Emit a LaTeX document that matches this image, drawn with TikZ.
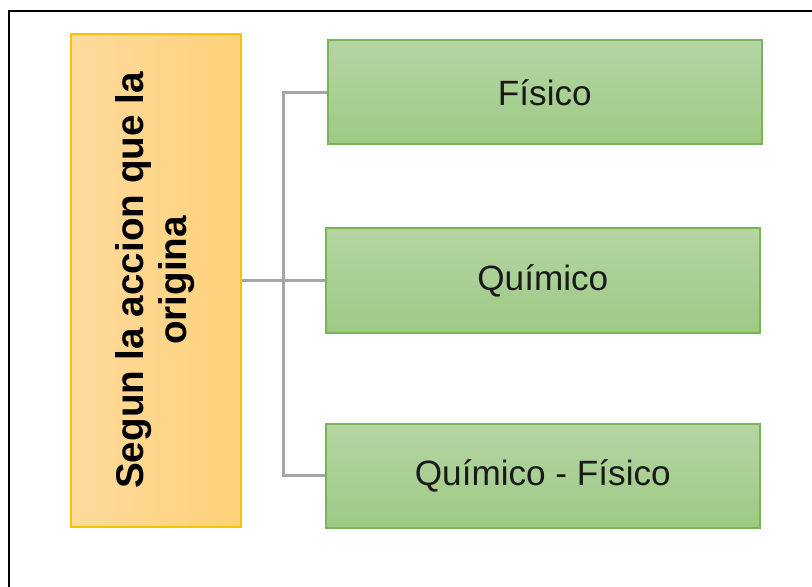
\documentclass[tikz,border=0pt]{standalone}
\usepackage{fontspec,graphicx}
\setmainfont{Liberation Sans}
\usetikzlibrary{positioning}
\definecolor{oroborde}{RGB}{255,192,0}
\definecolor{oroclaro}{RGB}{253,219,156}
\definecolor{orooscuro}{RGB}{255,209,122}
\definecolor{verdeborde}{RGB}{122,180,88}
\definecolor{verdeclaro}{RGB}{181,213,163}
\definecolor{verdeoscuro}{RGB}{158,202,133}
\definecolor{ramagris}{RGB}{166,166,166}
\tikzset{
node distance=2.075cm, % space between the source box and the middle box
origen/.style={draw=oroborde, line width=0.04cm, left color=oroclaro, right color=orooscuro, minimum width=4.25cm, minimum height=12.325cm, inner sep=0pt, font=\bfseries\fontsize{27.5}{30.5}\selectfont}, % the tall box on the left
tipo/.style={draw=verdeborde, line width=0.05cm, top color=verdeclaro, bottom color=verdeoscuro, minimum width=10.85cm, minimum height=2.6cm, font=\fontsize{25}{29}\selectfont, text=black!90}, % the green boxes
rama/.style={draw=ramagris, line width=0.075cm}, % the grey connectors
marco/.style={draw=black, line width=0.05cm}, % frame of the picture
}

\begin{document}
\begin{tikzpicture}
    \useasboundingbox (0,0) rectangle (20.3,-14.675);
    \draw[marco] (0.225,-15) |- (20.6,-0.275);

    \node[origen] (origen) at (3.9,-7.0125) {\rotatebox{90}{\begin{tabular}{@{}c@{}}Segun la accion que la\\origina\end{tabular}}};
    \node[tipo, right=of origen] (quimico) {Químico};
    \node[tipo, above=2.05cm of quimico, xshift=0.05cm] (fisico) {Físico};
    \node[tipo, below=2.225cm of quimico] (quimfis) {Químico - Físico};
    \coordinate[right=1.05cm of origen.east] (eje);

  \draw[rama] (origen.east) -- (quimico.west);
  \draw[rama] (fisico.west) -| (eje) |- (quimfis.west);

\end{tikzpicture}
\end{document}
